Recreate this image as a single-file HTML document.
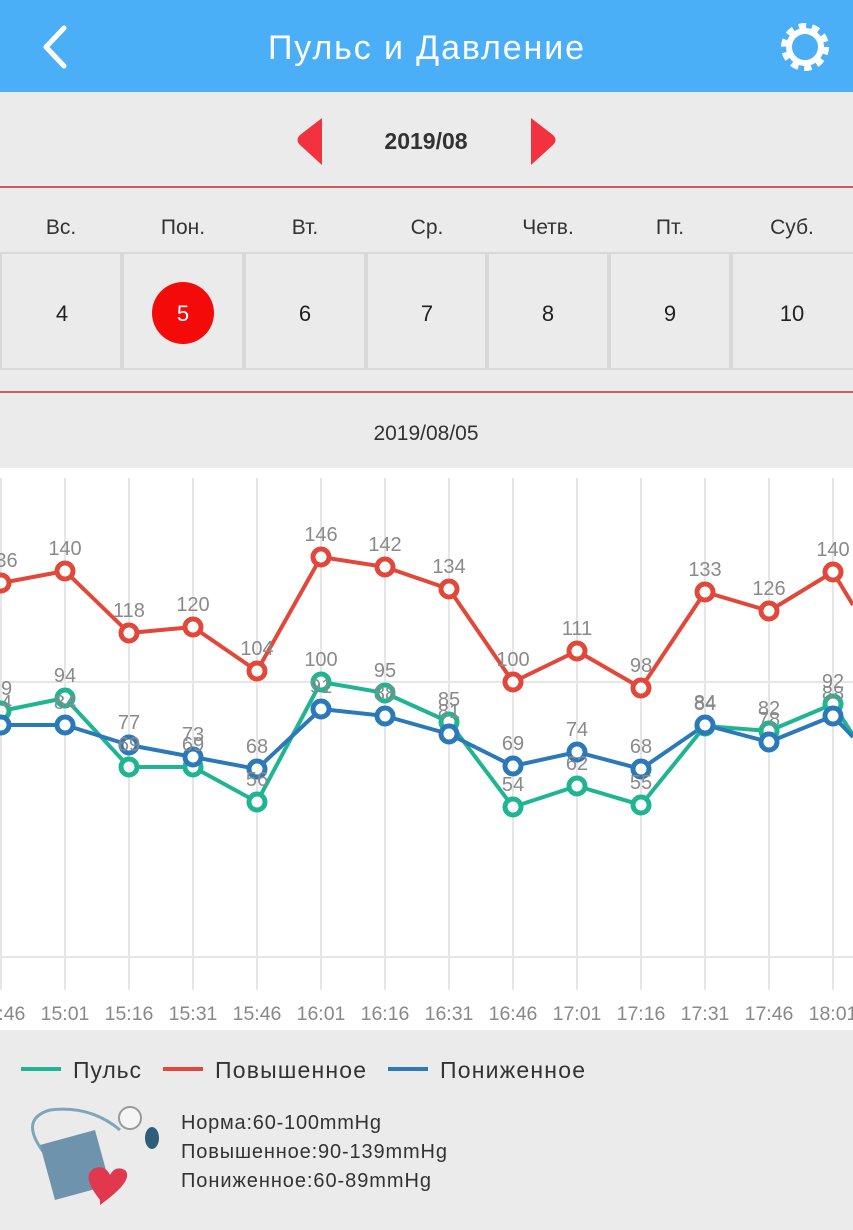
<!DOCTYPE html>
<html><head><meta charset="utf-8"><style>
html,body{margin:0;padding:0;width:853px;height:1230px;overflow:hidden;background:#ebebeb}
svg{display:block}
text{font-family:"Liberation Sans",sans-serif}
</style></head><body>
<svg width="853" height="1230" viewBox="0 0 853 1230" xmlns="http://www.w3.org/2000/svg">
<rect x="0" y="0" width="853" height="1230" fill="#ebebeb"/>
<rect x="0" y="0" width="853" height="92" fill="#4aaff7"/>
<polyline points="64,28 46,47 64,66" fill="none" stroke="#fff" stroke-width="5" stroke-linecap="round" stroke-linejoin="round"/>
<text x="426" y="59" font-size="34" fill="#fff" text-anchor="middle" textLength="316">Пульс и Давление</text>
<g transform="translate(805,47)" fill="none" stroke="#fff">
<circle r="16" stroke-width="6"/>
<circle r="20" stroke-width="8" stroke-dasharray="7 5.6"/>
</g>
<path d="M322,118 L322,165 L300,145 Q295,140 300,135 Z" fill="#f2333f"/>
<path d="M531,118 L531,165 L553,145 Q558,140 553,135 Z" fill="#f2333f"/>
<text x="426" y="149" font-size="23" font-weight="bold" fill="#333" text-anchor="middle">2019/08</text>
<rect x="0" y="186" width="853" height="2" fill="#d9585a"/>
<g font-size="21" fill="#333" text-anchor="middle">
<text x="61" y="234">Вс.</text><text x="183" y="234">Пон.</text><text x="305" y="234">Вт.</text><text x="427" y="234">Ср.</text><text x="548" y="234">Четв.</text><text x="670" y="234">Пт.</text><text x="792" y="234">Суб.</text>
</g>
<g fill="none" stroke="#d8d8d8" stroke-width="2">
<rect x="1" y="253" width="120" height="116"/><rect x="123" y="253" width="120" height="116"/><rect x="245" y="253" width="120" height="116"/><rect x="367" y="253" width="119" height="116"/><rect x="488" y="253" width="120" height="116"/><rect x="610" y="253" width="120" height="116"/><rect x="732" y="253" width="122" height="116"/>
</g>
<circle cx="183" cy="313" r="31" fill="#f50a0a"/>
<g font-size="22" fill="#222" text-anchor="middle">
<text x="62" y="321">4</text><text x="183" y="321" fill="#fff">5</text><text x="305" y="321">6</text><text x="427" y="321">7</text><text x="548" y="321">8</text><text x="670" y="321">9</text><text x="792" y="321">10</text>
</g>
<rect x="0" y="391" width="853" height="2" fill="#d9585a"/>
<text x="426" y="440" font-size="21" fill="#333" text-anchor="middle">2019/08/05</text>
<rect x="0" y="468" width="853" height="562" fill="#fff"/>
<g stroke="#e6e6e6" stroke-width="2">
<line x1="1" y1="478" x2="1" y2="990"/><line x1="65" y1="478" x2="65" y2="990"/><line x1="129" y1="478" x2="129" y2="990"/><line x1="193" y1="478" x2="193" y2="990"/><line x1="257" y1="478" x2="257" y2="990"/><line x1="321" y1="478" x2="321" y2="990"/><line x1="385" y1="478" x2="385" y2="990"/><line x1="449" y1="478" x2="449" y2="990"/><line x1="513" y1="478" x2="513" y2="990"/><line x1="577" y1="478" x2="577" y2="990"/><line x1="641" y1="478" x2="641" y2="990"/><line x1="705" y1="478" x2="705" y2="990"/><line x1="769" y1="478" x2="769" y2="990"/><line x1="833" y1="478" x2="833" y2="990"/>
<line x1="0" y1="682" x2="853" y2="682"/><line x1="0" y1="957" x2="853" y2="957"/>
</g>
<g fill="none" stroke-width="4" stroke-linejoin="round">
<polyline stroke="#1fb592" points="1,711 65,698 129,767 193,767 257,802 321,682 385,693 449,722 513,807 577,786 641,805 705,726 769,731 833,704 853,735"/>
<polyline stroke="#e2483a" points="1,583 65,571 129,633 193,627 257,671 321,557 385,567 449,589 513,682 577,651 641,688 705,592 769,611 833,572 853,605"/>
<polyline stroke="#2b79b8" points="1,725 65,725 129,745 193,757 257,769 321,709 385,716 449,734 513,766 577,752 641,769 705,725 769,742 833,716 853,737"/>
</g>
<g fill="#fff" stroke-width="5">
<g stroke="#1fb592"><circle cx="1" cy="711" r="8"/><circle cx="65" cy="698" r="8"/><circle cx="129" cy="767" r="8"/><circle cx="193" cy="767" r="8"/><circle cx="257" cy="802" r="8"/><circle cx="321" cy="682" r="8"/><circle cx="385" cy="693" r="8"/><circle cx="449" cy="722" r="8"/><circle cx="513" cy="807" r="8"/><circle cx="577" cy="786" r="8"/><circle cx="641" cy="805" r="8"/><circle cx="705" cy="726" r="8"/><circle cx="769" cy="731" r="8"/><circle cx="833" cy="704" r="8"/></g>
<g stroke="#e2483a"><circle cx="1" cy="583" r="8"/><circle cx="65" cy="571" r="8"/><circle cx="129" cy="633" r="8"/><circle cx="193" cy="627" r="8"/><circle cx="257" cy="671" r="8"/><circle cx="321" cy="557" r="8"/><circle cx="385" cy="567" r="8"/><circle cx="449" cy="589" r="8"/><circle cx="513" cy="682" r="8"/><circle cx="577" cy="651" r="8"/><circle cx="641" cy="688" r="8"/><circle cx="705" cy="592" r="8"/><circle cx="769" cy="611" r="8"/><circle cx="833" cy="572" r="8"/></g>
<g stroke="#2b79b8"><circle cx="1" cy="725" r="8"/><circle cx="65" cy="725" r="8"/><circle cx="129" cy="745" r="8"/><circle cx="193" cy="757" r="8"/><circle cx="257" cy="769" r="8"/><circle cx="321" cy="709" r="8"/><circle cx="385" cy="716" r="8"/><circle cx="449" cy="734" r="8"/><circle cx="513" cy="766" r="8"/><circle cx="577" cy="752" r="8"/><circle cx="641" cy="769" r="8"/><circle cx="705" cy="725" r="8"/><circle cx="769" cy="742" r="8"/><circle cx="833" cy="716" r="8"/></g>
</g>
<g font-size="20" fill="#8a8a8a" text-anchor="middle">
<text x="1" y="567">136</text><text x="65" y="555">140</text><text x="129" y="617">118</text><text x="193" y="611">120</text><text x="257" y="655">104</text><text x="321" y="541">146</text><text x="385" y="551">142</text><text x="449" y="573">134</text><text x="513" y="666">100</text><text x="577" y="635">111</text><text x="641" y="672">98</text><text x="705" y="576">133</text><text x="769" y="595">126</text><text x="833" y="556">140</text>
<text x="1" y="695">89</text><text x="65" y="682">94</text><text x="129" y="751">69</text><text x="193" y="751">69</text><text x="257" y="786">56</text><text x="321" y="666">100</text><text x="385" y="677">95</text><text x="449" y="706">85</text><text x="513" y="791">54</text><text x="577" y="770">62</text><text x="641" y="789">55</text><text x="705" y="710">84</text><text x="769" y="715">82</text><text x="833" y="688">92</text>
<text x="1" y="709">84</text><text x="65" y="709">84</text><text x="129" y="729">77</text><text x="193" y="741">73</text><text x="257" y="753">68</text><text x="321" y="693">91</text><text x="385" y="700">88</text><text x="449" y="718">81</text><text x="513" y="750">69</text><text x="577" y="736">74</text><text x="641" y="753">68</text><text x="705" y="709">84</text><text x="769" y="726">78</text><text x="833" y="700">88</text>
</g>
<g font-size="19.5" fill="#888" text-anchor="middle">
<text x="1" y="1020">14:46</text><text x="65" y="1020">15:01</text><text x="129" y="1020">15:16</text><text x="193" y="1020">15:31</text><text x="257" y="1020">15:46</text><text x="321" y="1020">16:01</text><text x="385" y="1020">16:16</text><text x="449" y="1020">16:31</text><text x="513" y="1020">16:46</text><text x="577" y="1020">17:01</text><text x="641" y="1020">17:16</text><text x="705" y="1020">17:31</text><text x="769" y="1020">17:46</text><text x="833" y="1020">18:01</text>
</g>
<g stroke-width="4"><line x1="21" y1="1069" x2="61" y2="1069" stroke="#1fb592"/><line x1="163" y1="1069" x2="203" y2="1069" stroke="#e2483a"/><line x1="388" y1="1069" x2="428" y2="1069" stroke="#2b79b8"/></g>
<g font-size="23" fill="#333"><text x="73" y="1078" textLength="68">Пульс</text><text x="215" y="1078" textLength="151">Повышенное</text><text x="440" y="1078" textLength="145">Пониженное</text></g>
<path d="M50,1160 Q15,1120 50,1110 Q90,1105 120,1130" fill="none" stroke="#7fa6b8" stroke-width="3"/>
<path d="M40,1145 L95,1130 L110,1185 L55,1200 Z" fill="#6e93ad"/>
<path d="M100,1200 Q80,1175 95,1168 Q105,1165 110,1175 Q115,1165 125,1170 Q135,1180 100,1205 Z" fill="#e1384e"/>
<circle cx="130" cy="1118" r="11" fill="#f5f5f5" stroke="#999" stroke-width="2"/>
<ellipse cx="152" cy="1138" rx="7" ry="11" fill="#2e5e7a"/>
<g font-size="20" fill="#333"><text x="181" y="1129" textLength="200">Норма:60-100mmHg</text><text x="181" y="1158" textLength="266">Повышенное:90-139mmHg</text><text x="181" y="1187" textLength="250">Пониженное:60-89mmHg</text></g>
</svg>
</body></html>
